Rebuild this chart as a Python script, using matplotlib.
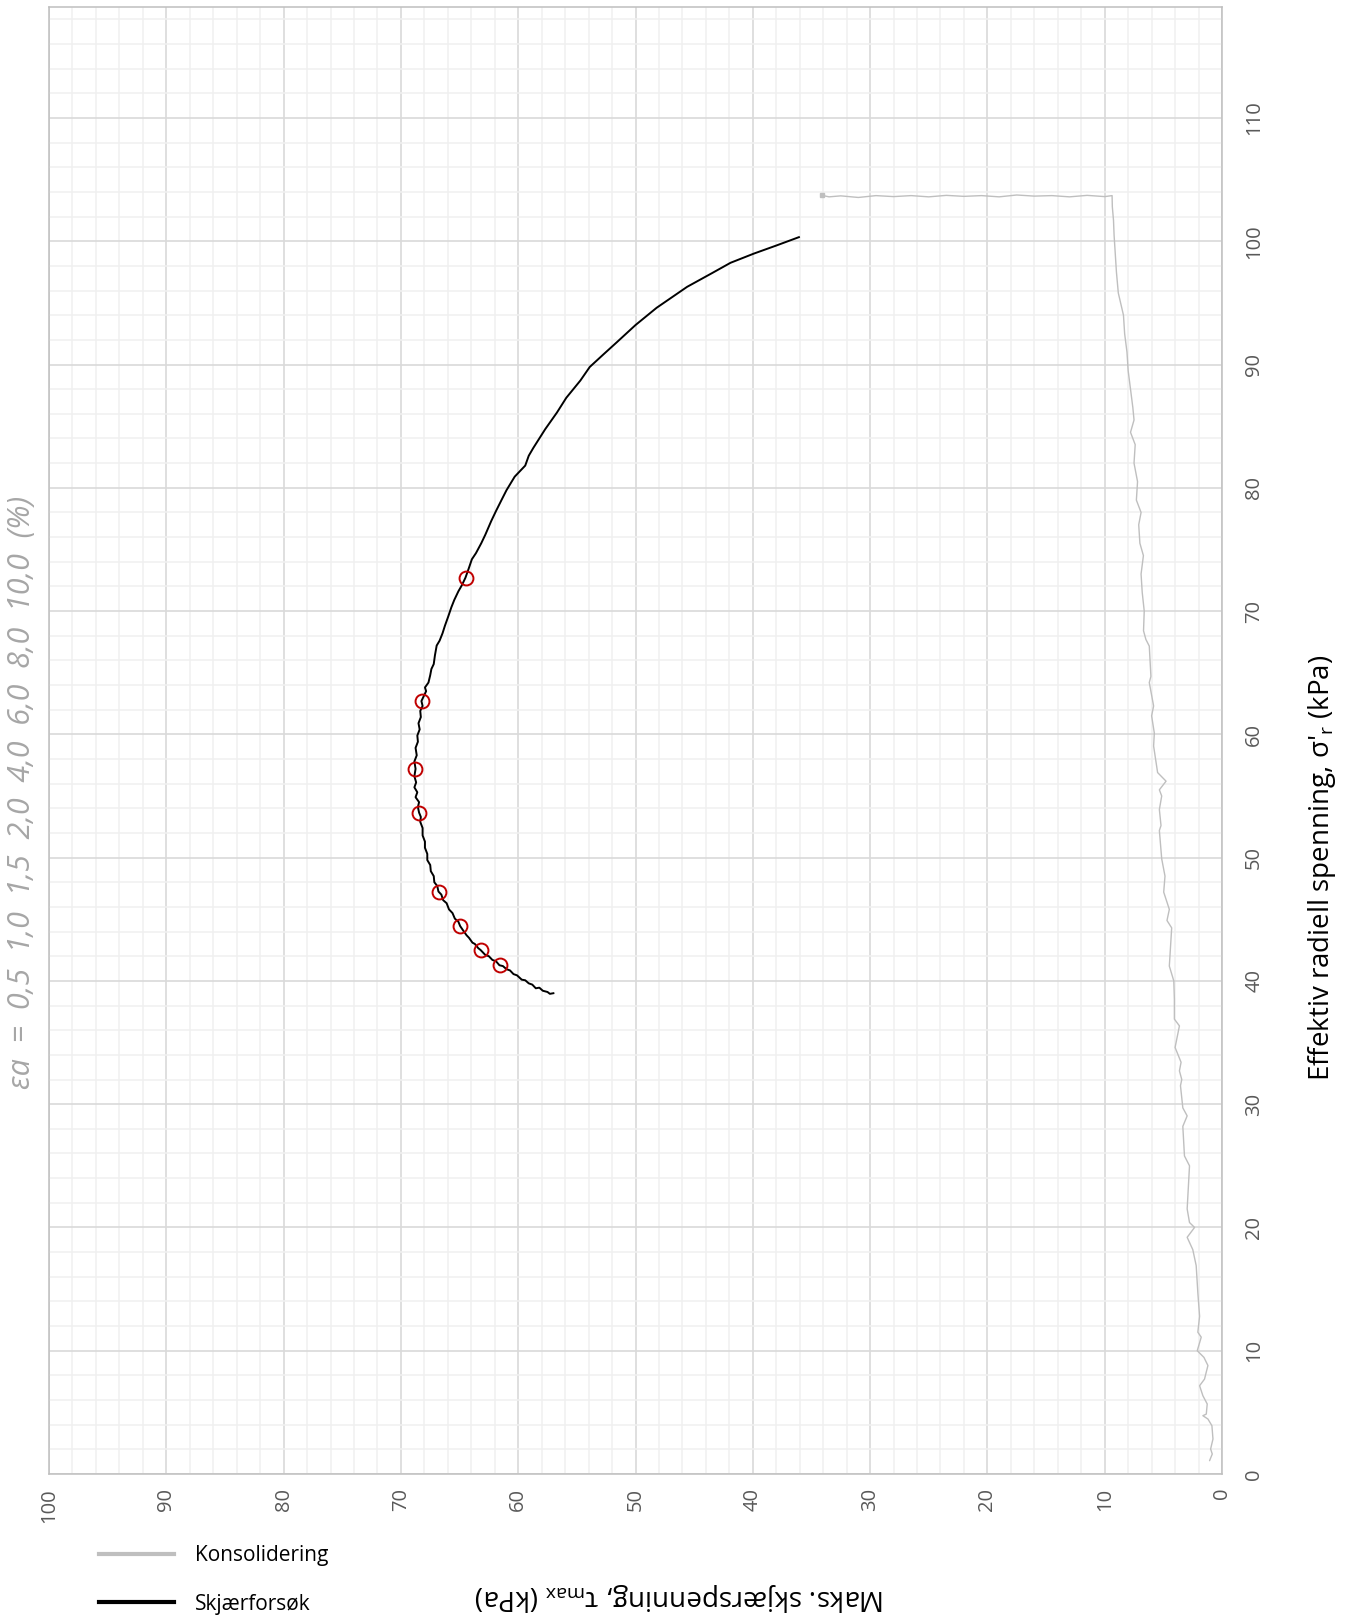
import matplotlib
matplotlib.use("Agg")
import matplotlib.pyplot as plt
from matplotlib.lines import Line2D
from matplotlib.ticker import MultipleLocator
import numpy as np

# Consolidation path: (tau_max, sigma'_r) in kPa
konsolidering = [
    (1.06, 1.08), (0.83, 1.62), (0.97, 2.03), (0.77, 2.84), (0.86, 3.92), (1.20, 4.46),
    (1.63, 4.73), (1.34, 4.86), (1.26, 5.68), (1.63, 6.35), (1.91, 7.16), (1.49, 7.70),
    (1.20, 8.80), (1.54, 9.46), (2.11, 10.0), (1.77, 11.1), (2.06, 11.5), (1.91, 12.8),
    (2.06, 14.7), (2.20, 16.9), (2.49, 18.2), (2.97, 19.2), (2.34, 20.0), (2.77, 20.4),
    (2.97, 21.5), (2.77, 25.0), (3.20, 25.8), (3.34, 28.2), (2.97, 29.05), (3.34, 29.7),
    (3.54, 31.5), (3.43, 32.0), (3.63, 32.7), (3.49, 33.4), (4.00, 34.6), (3.63, 36.35),
    (4.06, 36.9), (4.06, 38.5), (4.11, 40.0), (4.49, 41.2), (4.29, 44.3), (4.69, 44.9),
    (4.49, 45.8), (4.97, 47.2), (4.86, 48.5), (5.14, 49.9), (5.34, 52.2), (5.20, 52.6),
    (5.34, 53.9), (5.14, 55.0), (5.34, 55.5), (4.77, 56.2), (5.49, 56.9), (5.83, 59.05),
    (5.77, 60.1), (6.00, 61.5), (5.83, 62.3), (6.20, 64.2), (6.06, 64.7), (6.20, 67.16),
    (6.49, 67.7), (6.69, 68.4), (6.63, 70.0), (6.80, 71.5), (6.90, 73.0), (6.70, 74.5),
    (7.00, 75.5), (7.10, 77.0), (6.90, 78.0), (7.30, 79.0), (7.20, 80.5), (7.50, 82.0),
    (7.40, 83.5), (7.80, 84.5), (7.50, 85.5), (7.60, 86.5), (7.80, 88.0), (8.00, 89.5),
    (8.10, 91.0), (8.30, 92.5), (8.40, 94.0), (8.84, 95.8), (9.00, 97.5), (9.10, 99.0),
    (9.20, 100.5), (9.25, 101.7), (9.35, 102.8), (9.37, 103.7),
    (10.0, 103.62), (11.5, 103.72), (13.0, 103.60), (14.5, 103.70), (16.0, 103.66),
    (17.5, 103.75), (19.0, 103.60), (20.5, 103.70), (22.0, 103.64), (23.5, 103.72),
    (25.0, 103.60), (26.5, 103.70), (28.0, 103.62), (29.5, 103.70), (31.0, 103.55),
    (32.5, 103.68), (33.5, 103.60), (34.1, 103.72),
]

# Shear test path: (tau_max, sigma'_r) in kPa
skjaerforsok = [
    (57.0, 39.0), (57.3, 38.95), (57.5, 39.1), (57.9, 39.2), (58.2, 39.45), (58.5, 39.4),
    (58.8, 39.7), (59.1, 39.8), (59.4, 40.05), (59.7, 40.1), (60.1, 40.45), (60.4, 40.55),
    (60.7, 40.85), (61.0, 40.95), (61.3, 41.2), (61.6, 41.27), (61.9, 41.6), (62.2, 41.7),
    (62.5, 42.0), (62.8, 42.1), (63.2, 42.5), (63.4, 42.65), (63.7, 43.0), (63.9, 43.1),
    (64.2, 43.5), (64.4, 43.7), (64.7, 44.1), (64.95, 44.45), (65.1, 44.8), (65.4, 45.05),
    (65.6, 45.5), (65.9, 45.8), (66.1, 46.3), (66.4, 46.55), (66.55, 47.0), (66.8, 47.25),
    (66.9, 47.7), (67.15, 48.0), (67.2, 48.5), (67.45, 48.9), (67.5, 49.4), (67.75, 49.8),
    (67.75, 50.3), (67.95, 50.8), (67.95, 51.3), (68.15, 51.8), (68.15, 52.4), (68.35, 52.9),
    (68.3, 53.3), (68.45, 53.65), (68.55, 54.1), (68.45, 54.5), (68.75, 54.9), (68.6, 55.3),
    (68.85, 55.7), (68.7, 56.1), (68.85, 56.6), (68.75, 57.2), (68.85, 57.8), (68.65, 58.3),
    (68.75, 58.9), (68.55, 59.4), (68.6, 59.9), (68.4, 60.4), (68.5, 60.9), (68.3, 61.4),
    (68.35, 61.9), (68.15, 62.3), (68.25, 62.7), (68.05, 63.1), (67.85, 63.5), (67.95, 63.8),
    (67.65, 64.2), (67.5, 64.8), (67.4, 65.3), (67.2, 65.7), (67.1, 66.4), (66.95, 67.2),
    (66.7, 67.6), (66.45, 68.2), (66.25, 68.8), (65.95, 69.6), (65.7, 70.3), (65.45, 70.9),
    (65.1, 71.6), (64.8, 72.1), (64.5, 72.7), (64.2, 73.5), (63.95, 74.2), (63.6, 74.7),
    (63.15, 75.5), (62.8, 76.2), (62.3, 77.3), (61.9, 78.1), (61.4, 79.05), (61.0, 79.8),
    (60.3, 80.9), (59.9, 81.3), (59.4, 81.8), (59.1, 82.6), (58.7, 83.25), (58.2, 84.0),
    (57.7, 84.75), (56.7, 86.1), (55.9, 87.3), (54.7, 88.7), (53.9, 89.8), (52.7, 90.85),
    (51.6, 91.8), (50.0, 93.2), (48.2, 94.6), (45.6, 96.3), (43.5, 97.4), (41.9, 98.25),
    (39.9, 99.0), (38.0, 99.65), (36.07, 100.33),
]

# Axial strain levels and the stress states reached at each
toyning_pct = ["0,5", "1,0", "1,5", "2,0", "4,0", "6,0", "8,0", "10,0"]
toyning_tau = [61.57, 63.2, 64.94, 66.77, 68.43, 68.77, 68.2, 64.49]
toyning_sigma = [41.27, 42.51, 44.46, 47.24, 53.65, 57.2, 62.7, 72.7]

tau_ticks = list(range(0, 101, 10))
sigma_ticks = list(range(0, 111, 10))

FONT = ["Open Sans", "DejaVu Sans"]
plt.rcParams["font.family"] = FONT
plt.rcParams["mathtext.fontset"] = "custom"
plt.rcParams["mathtext.rm"] = "Open Sans"

W, H = 1354, 1617
fig = plt.figure(figsize=(W / 100, H / 100), dpi=100)
ax = fig.add_axes([49 / W, 1 - 1474 / H, (1222 - 49) / W, (1474 - 7) / H])

ax.set_xlim(100, 0)
ax.set_ylim(0, 119)
ax.set_xticks(tau_ticks)
ax.set_yticks(sigma_ticks)
ax.xaxis.set_minor_locator(MultipleLocator(2))
ax.yaxis.set_minor_locator(MultipleLocator(2))
ax.yaxis.tick_right()
ax.grid(which="minor", color="#f0f0f0", linewidth=1.1, zorder=0)
ax.grid(which="major", color="#d9d9d9", linewidth=1.2, zorder=0)
ax.set_axisbelow(True)
ax.tick_params(which="both", length=0)
ax.tick_params(axis="x", labelrotation=90, pad=10, labelsize=14.5, labelcolor="#595959")
ax.tick_params(axis="y", labelrotation=90, pad=16, labelsize=14.5, labelcolor="#595959")
for lab in ax.get_yticklabels():
    lab.set_va("center")
for sp in ax.spines.values():
    sp.set_color("#bfbfbf")
    sp.set_linewidth(1.1)

k_tau, k_sig = np.array(konsolidering).T
s_tau, s_sig = np.array(skjaerforsok).T
ax.plot(k_tau, k_sig, color="#bfbfbf", linewidth=1.0, zorder=2,
        solid_joinstyle="round", solid_capstyle="round")
ax.plot(k_tau[-1], k_sig[-1], linestyle="none", marker="s", markersize=2.5,
        color="#bfbfbf", zorder=2)
ax.plot(s_tau, s_sig, color="black", linewidth=1.4, zorder=3,
        solid_joinstyle="round")
ax.plot(toyning_tau, toyning_sigma, linestyle="none", marker="o",
        markersize=10, markerfacecolor="none", markeredgecolor="#c00000",
        markeredgewidth=1.4, zorder=4)

# Strain annotation along the left edge
eps_text = "εa  =  " + "  ".join(toyning_pct) + "  (%)"
fig.text(22 / W, 1 - 792 / H, eps_text, rotation=90, ha="center", va="center",
         fontsize=22, style="italic", color="#a6a6a6")

# Axis titles
fig.text(680 / W, 1 - 1597 / H, "Maks. skjærspenning, τ$_{\\rm max}$ (kPa)",
         rotation=180, ha="center", va="center", fontsize=20, color="black")
fig.text(1322 / W, 1 - 868 / H, "Effektiv radiell spenning, σ'$_{\\rm r}$ (kPa)",
         rotation=90, ha="center", va="center", fontsize=20, color="black")

handles = [Line2D([], [], color="#bfbfbf", linewidth=3.0),
           Line2D([], [], color="black", linewidth=3.0)]
fig.legend(handles, ["Konsolidering", "Skjærforsøk"], loc="center left",
           bbox_to_anchor=(99 / W, 1 - 1580 / H), frameon=False, fontsize=15,
           handlelength=3.6, handletextpad=1.0, labelspacing=1.3,
           borderpad=0, borderaxespad=0)

fig.savefig("out.png", dpi=100)
